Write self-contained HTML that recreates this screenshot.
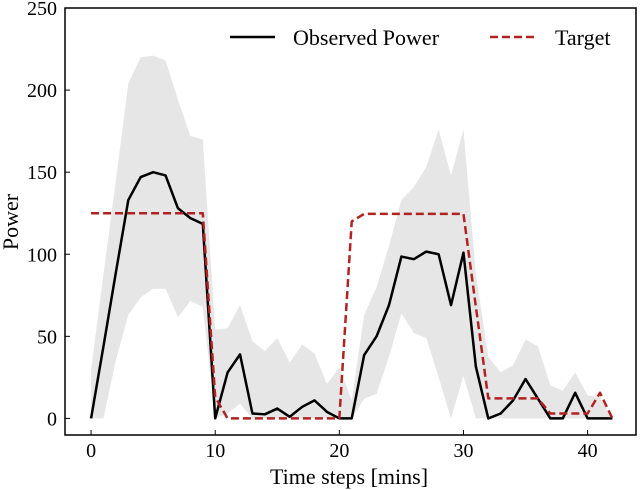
<!DOCTYPE html>
<html><head><meta charset="utf-8"><style>
html,body{margin:0;padding:0;background:#fff;}
svg{display:block;font-family:"Liberation Serif",serif;}
</style></head><body>
<svg id="chart" width="640" height="490">
<g id="plot"></g>
</svg>
<script>
const timeSteps = Array.from({length:43},(_,i)=>i);
const observed = [0,44,89,133,147,150,148,128,122,118.5,0,28,39,3,2.5,6,1,7,11,4,0,0,38.6,50,69,98.6,97,101.6,100,69,101,31.5,0,3,11,24,12,0,0,15.6,0,0,0];
const target = [125,125,125,125,125,125,125,125,125,125,13,0,0,0,0,0,0,0,0,0,0,120,124.6,124.6,124.6,124.6,124.6,124.6,124.6,124.6,124.6,68,12.2,12.2,12.2,12.2,12.2,3,3,3,3,15.6,0];
const bandUpper = [29.5,88,145,204,220,221,218,194,172,170,54,55,69,47,41,49,34,45,39.6,21,31,11,63,80,105,133,141,153,176,148,176,88,37.6,28,32.5,48,44,20,17,28,14,13,0];
const bandLower = [0,0,35.6,63,73.8,79,79,61.6,71.5,68,0,3,9,0,0,0,0,0,0,0,0,0,12,15,37.6,64,52,49,25,0,26,0,0,0,0,0,0,0,0,0,0,0,0];
const xTicks = [0,10,20,30,40];
const yTicks = [0,50,100,150,200,250];

const L=65,R=636,T=8,B=435;
const xMin=-2.1,xMax=43.9,yMin=-10.1,yMax=250;
const xs=v=>L+(v-xMin)/(xMax-xMin)*(R-L);
const ys=v=>B-(v-yMin)/(yMax-yMin)*(B-T);
const NS='http://www.w3.org/2000/svg';
const g=document.getElementById('plot');
function mk(tag,attrs){const e=document.createElementNS(NS,tag);for(const k in attrs)e.setAttribute(k,attrs[k]);g.appendChild(e);return e;}

let pts=timeSteps.map((t,i)=>xs(t)+','+ys(bandUpper[i]));
pts=pts.concat(timeSteps.slice().reverse().map(t=>xs(t)+','+ys(bandLower[t])));
const band=mk('polygon',{points:pts.join(' '),fill:'#e6e6e6',stroke:'none'});



const obs=mk('polyline',{points:timeSteps.map((t,i)=>xs(t)+','+ys(observed[i])).join(' '),fill:'none',stroke:'#000','stroke-width':2.5,'stroke-linejoin':'round'});



const tgt=mk('polyline',{points:timeSteps.map((t,i)=>xs(t)+','+ys(target[i])).join(' '),fill:'none',stroke:'#b22222','stroke-width':2.5,'stroke-dasharray':'8,4','stroke-linejoin':'round'});



const frame=mk('rect',{x:L,y:T,width:R-L,height:B-T,fill:'none',stroke:'#000','stroke-width':1.5});



xTicks.forEach(v=>{
  const tk=mk('line',{x1:xs(v),x2:xs(v),y1:B,y2:B-5,stroke:'#000','stroke-width':1});
  
  
  const tx=mk('text',{x:xs(v),y:B+22,'text-anchor':'middle','font-size':20,fill:'#000'});
  tx.textContent=v;
  
  
});
yTicks.forEach(v=>{
  const tk=mk('line',{x1:L,x2:L+5,y1:ys(v),y2:ys(v),stroke:'#000','stroke-width':1});
  
  
  const tx=mk('text',{x:57,y:ys(v)+7,'text-anchor':'end','font-size':20,fill:'#000'});
  tx.textContent=v;
  
  
});
</script>
<svg width="640" height="490" style="position:absolute;left:0;top:0;font-family:'Liberation Serif',serif">
<text x="349" y="484" text-anchor="middle" font-size="22">Time steps [mins]</text>
<text x="0" y="0" transform="translate(18,222) rotate(-90)" text-anchor="middle" font-size="22">Power</text>
<g>
<line x1="230" x2="275" y1="37" y2="37" stroke="#000" stroke-width="2.5"/>
<text x="293" y="45" font-size="22">Observed Power</text>
<line x1="490" x2="538" y1="37" y2="37" stroke="#b22222" stroke-width="2.5" stroke-dasharray="8,4"/>
<text x="555" y="45" font-size="22">Target</text>
</g>
</svg>
</body></html>
